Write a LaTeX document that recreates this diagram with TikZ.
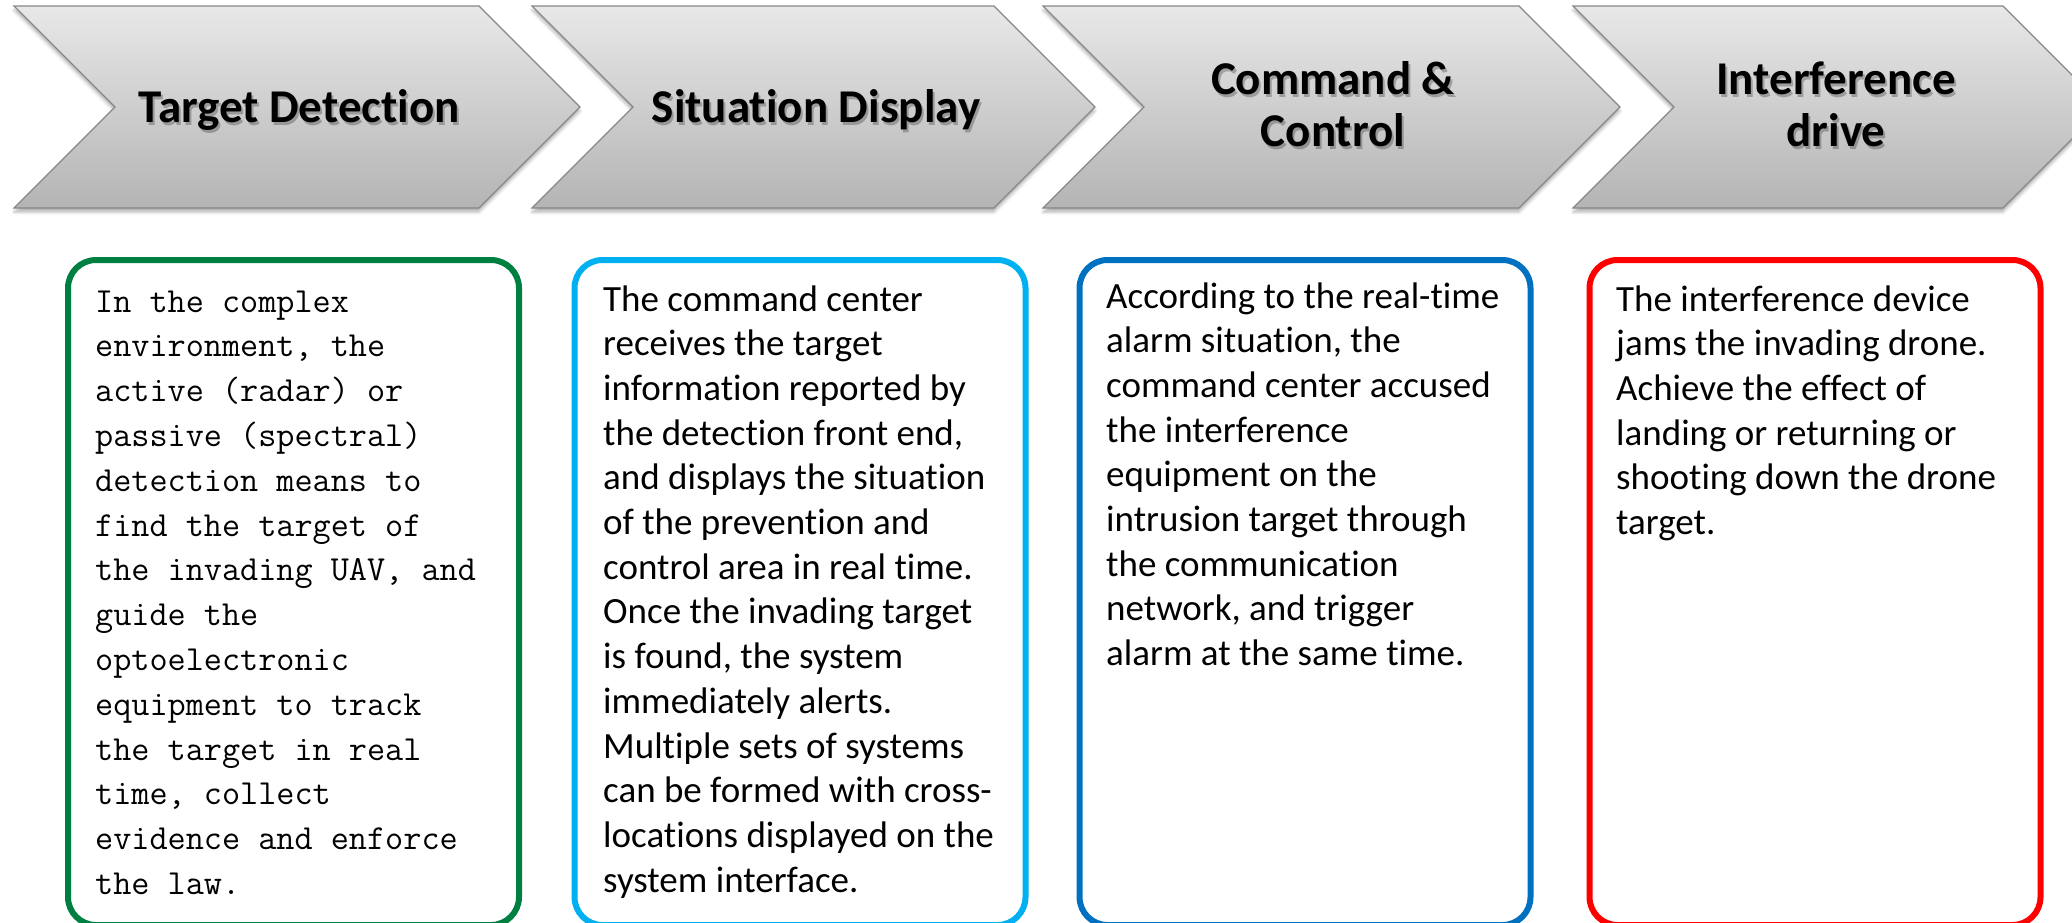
\documentclass[tikz,border=0pt]{standalone}
\usepackage{fontspec}
\setmainfont{Carlito}[Ligatures=NoCommon]
\usetikzlibrary{shadows.blur}

\definecolor{boxgreen}{RGB}{0,128,64}
\definecolor{boxcyan}{RGB}{0,176,240}
\definecolor{boxblue}{RGB}{0,112,192}
\definecolor{boxred}{RGB}{255,0,0}
\definecolor{chevtop}{RGB}{232,232,232}
\definecolor{chevbot}{RGB}{180,180,180}
\definecolor{chevedge}{RGB}{135,135,135}

\tikzset{
  chev/.style={draw=chevedge, line width=1.2pt, line join=miter,
    top color=chevtop, bottom color=chevbot,
    blur shadow={shadow xshift=0pt, shadow yshift=-4pt,
                 shadow blur radius=3pt, shadow opacity=30}},
  headtext/.style={anchor=base, inner sep=0pt, text=black,
    font=\fontsize{47}{52}\selectfont\bfseries},
  headshade/.style={headtext, text=black, opacity=0.25},
  panel/.style={draw=#1, line width=6pt, rounded corners=28pt,
    minimum width=451pt, minimum height=665pt, inner sep=0pt},
  bodytext/.style={anchor=base west, inner sep=0pt, text=black},
}

% one chevron step: left edge x, tip x
\newcommand\chevron[2]{%
  \path[chev] (#1,6) -- ({#2-101},6) -- (#2,107) -- ({#2-101},208)
    -- (#1,208) -- ({#1+101},107) -- cycle;}

% heading with a soft drop shadow: name, x, baseline y, text
\newcommand\heading[4]{%
  \node[headshade] (#1s) at ({#2+2},{#3+3}) {#4};
  \node[headtext] (#1) at (#2,#3) {#4};}

\newcommand\calibribody{\fontsize{37}{44.7}\selectfont}
\newcommand\monobody{\ttfamily\fontsize{35.2}{44.8}\selectfont}

\begin{document}
\begin{tikzpicture}[x=1pt, y=-1pt]
\useasboundingbox (0,0) rectangle (2072,922);

% process chevrons
\chevron{14}{580}
\chevron{532}{1095}
\chevron{1043}{1620}
\chevron{1573}{2104}

% chevron titles
\heading{h1}{299}{122}{Target Detection}
\heading{h2}{816}{122}{Situation Display}
\heading{h3}{1333}{94}{\parbox[t]{320pt}{\centering Command \&\\Control}}
\heading{h4}{1836}{94}{\parbox[t]{320pt}{\centering Interference\\drive}}

% description panels
\node[panel=boxgreen] (p1) at (293.5,592.5) {};
\node[panel=boxcyan]  (p2) at (800,592.5) {};
\node[panel=boxblue]  (p3) at (1305,592.5) {};
\node[panel=boxred]   (p4) at (1815,592.5) {};

% panel texts
\node[bodytext] (t1) at (95,312) {\parbox[t]{420pt}{\monobody\raggedright
In the complex\\
environment, the\\
active (radar) or\\
passive (spectral)\\
detection means to\\
find the target of\\
the invading UAV, and\\
guide the\\
optoelectronic\\
equipment to track\\
the target in real\\
time, collect\\
evidence and enforce\\
the law.}};

\node[bodytext] (t2) at (603,311) {\parbox[t]{420pt}{\calibribody\raggedright
The command center\\
receives the target\\
information reported by\\
the detection front end,\\
and displays the situation\\
of the prevention and\\
control area in real time.\\
Once the invading target\\
is found, the system\\
immediately alerts.\\
Multiple sets of systems\\
can be formed with cross-\\
locations displayed on the\\
system interface.}};

\node[bodytext] (t3) at (1106,308) {\parbox[t]{420pt}{\calibribody\raggedright
According to the real-time\\
alarm situation, the\\
command center accused\\
the interference\\
equipment on the\\
intrusion target through\\
the communication\\
network, and trigger\\
alarm at the same time.}};

\node[bodytext] (t4) at (1616,311) {\parbox[t]{420pt}{\calibribody\raggedright
The interference device\\
jams the invading drone.\\
Achieve the effect of\\
landing or returning or\\
shooting down the drone\\
target.}};
\end{tikzpicture}
\end{document}
